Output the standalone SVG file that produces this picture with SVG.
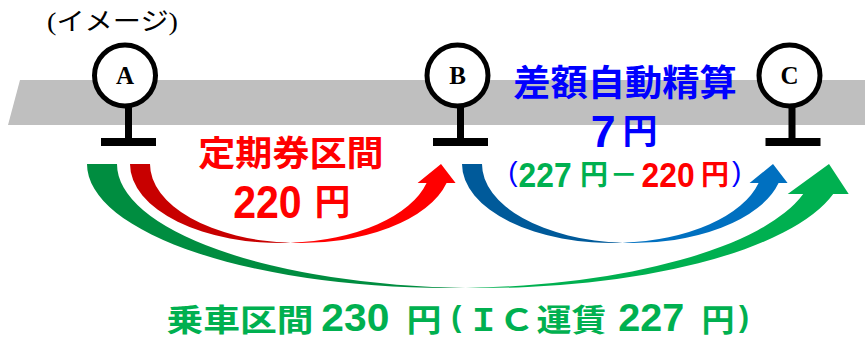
<svg xmlns="http://www.w3.org/2000/svg" width="865" height="339" viewBox="0 0 865 339">
<defs>
<style>
.jp{font-family:"Noto Sans CJK JP","Noto Sans CJK SC",sans-serif;font-weight:bold}
.num{font-family:"Liberation Sans",Arial,"Noto Sans CJK JP",sans-serif;font-weight:bold}
.par{font-family:"Liberation Sans",Arial,sans-serif;font-weight:normal}
.ring{fill:#fff;stroke:#000;stroke-width:5}
.post{fill:#000}
.lbl{font-family:"Liberation Serif","Times New Roman",serif;font-weight:bold;font-size:25px;text-anchor:middle;fill:#000}
.red{fill:#FF0000}.blue{fill:#0000FF}.green{fill:#00B050}
</style>
</defs>
<rect width="865" height="339" fill="#fff"/>
<polygon id="track" points="20,80 865,80 865,125 8,125" fill="#BFBFBF"/>
<text x="47" y="30.4" textLength="131" lengthAdjust="spacingAndGlyphs" style="font-family:'Liberation Serif','Noto Sans CJK JP',serif;font-size:25px" fill="#000">(イメージ)</text>

<g id="station-a">
<rect class="post" x="125" y="104" width="7" height="36"/>
<rect class="post" x="101" y="138" width="55" height="8"/>
<circle class="ring" cx="125" cy="75.5" r="30.5"/>
<text class="lbl" x="125" y="84">A</text>
</g>
<g id="station-b">
<rect class="post" x="457" y="104" width="7" height="36"/>
<rect class="post" x="433" y="138" width="55" height="8"/>
<circle class="ring" cx="457.5" cy="75.5" r="30.5"/>
<text class="lbl" x="457.5" y="84">B</text>
</g>
<g id="station-c">
<rect class="post" x="788.5" y="104" width="7" height="36"/>
<rect class="post" x="765.5" y="138" width="55" height="8"/>
<circle class="ring" cx="789.5" cy="75.5" r="30.5"/>
<text class="lbl" x="789.5" y="84">C</text>
</g>

<g id="connectors">
<g id="arrow-ab">
<path fill="#C80000" d="M130,164 A150.5,79 0 0 0 290.5,242.83 A150.5,79 0 0 1 150,164 Z"/>
<path fill="#FF0000" d="M441,164 L455.58,183 L446.58,183 A150.5,79 0 0 1 290.5,242.83 A150.5,79 0 0 0 426.58,183 L417.58,183 Z"/>
</g>
<g id="arrow-bc" transform="translate(332,0)">
<path fill="#005A9A" d="M130,164 A150.5,79 0 0 0 290.5,242.83 A150.5,79 0 0 1 150,164 Z"/>
<path fill="#0070C0" d="M441,164 L455.58,183 L446.58,183 A150.5,79 0 0 1 290.5,242.83 A150.5,79 0 0 0 426.58,183 L417.58,183 Z"/>
</g>
<g id="arrow-ac">
<path fill="#008D40" d="M87,164 A363.5,124 0 0 0 465.5,287.89 A363.5,124 0 0 1 117,164 Z"/>
<path fill="#00B050" d="M829,164 L848.7,194 L833.2,194 A363.5,124 0 0 1 465.5,287.89 A363.5,124 0 0 0 803.2,194 L787.7,194 Z"/>
</g>
</g>

<g id="label-ab">
<text class="jp red" x="198.2" y="165.7" font-size="35" textLength="185.5" lengthAdjust="spacingAndGlyphs">定期券区間</text>
<text class="num red" x="233.2" y="218" font-size="46" textLength="68.5" lengthAdjust="spacingAndGlyphs">220</text>
<text class="jp red" x="314.5" y="215.3" font-size="36">円</text>
</g>

<g id="label-bc">
<text class="jp blue" x="513.2" y="95.6" font-size="36.6" textLength="223.7" lengthAdjust="spacingAndGlyphs">差額自動精算</text>
<text class="num blue" x="590.8" y="147" font-size="44.7">7</text>
<text class="jp blue" x="622.6" y="144.4" font-size="35">円</text>
<text class="par blue" x="508.3" y="181" font-size="28">(</text>
<text class="num green" x="518.6" y="187" font-size="35" textLength="53" lengthAdjust="spacingAndGlyphs">227</text>
<text class="jp green" x="580" y="185" font-size="28">円</text>
<text class="jp green" x="609.8" y="185" font-size="28">－</text>
<text class="num red" x="641.6" y="187" font-size="35" textLength="53" lengthAdjust="spacingAndGlyphs">220</text>
<text class="jp red" x="701" y="185" font-size="28">円</text>
<text class="par blue" x="731.9" y="181" font-size="28">)</text>
</g>

<g id="label-ac">
<text class="jp green" x="166.5" y="330.7" font-size="31" textLength="147" lengthAdjust="spacingAndGlyphs">乗車区間</text>
<text class="num green" x="321.3" y="330.8" font-size="38" textLength="68" lengthAdjust="spacingAndGlyphs">230</text>
<text class="jp green" x="406.5" y="330.7" font-size="31" textLength="35" lengthAdjust="spacingAndGlyphs">円</text>
<text class="num green" x="451.2" y="327" font-size="30" font-weight="normal">(</text>
<text class="jp green" x="483.5" y="330.7" font-size="31" text-anchor="middle">Ｉ</text>
<text class="jp green" x="498.5" y="330.7" font-size="31" textLength="36" lengthAdjust="spacingAndGlyphs">Ｃ</text>
<text class="jp green" x="536.5" y="330.7" font-size="31" textLength="70" lengthAdjust="spacingAndGlyphs">運賃</text>
<text class="num green" x="618.3" y="330.8" font-size="38" textLength="66" lengthAdjust="spacingAndGlyphs">227</text>
<text class="jp green" x="701.5" y="330.7" font-size="31" textLength="33" lengthAdjust="spacingAndGlyphs">円</text>
<text class="num green" x="739" y="327" font-size="30" font-weight="normal">)</text>
</g>
</svg>
